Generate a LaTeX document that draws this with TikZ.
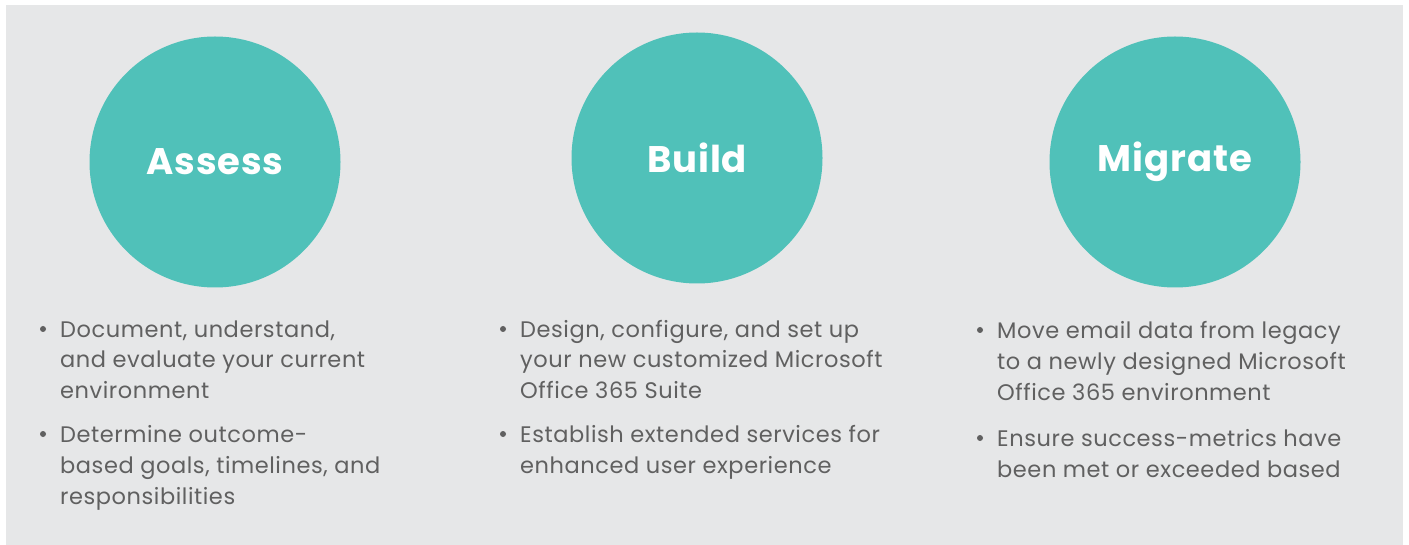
\documentclass[tikz,border=0pt]{standalone}
\usepackage{fontspec}
\setmainfont{Poppins}[LetterSpace=2.5]
\usetikzlibrary{positioning}
\definecolor{phaseteal}{HTML}{50C1B9}
\definecolor{panelgray}{HTML}{E6E7E8}
\definecolor{textgray}{HTML}{606060}
\begin{document}
\begin{tikzpicture}[x=1pt,y=-1pt,
	phase/.style = {circle,fill=phaseteal,minimum size=251pt,inner sep=0pt,text=white,font=\bfseries\fontsize{37}{46}\selectfont},
	bullets/.style = {anchor=base west,align=left,inner sep=0pt,text=textgray,font=\fontsize{22.5}{31}\selectfont},
	dot/.style = {fill=textgray,circle,inner sep=0pt,minimum size=6pt}
	]
	\useasboundingbox (0,0) rectangle (1409,545);
	\fill[white] (0,0) rectangle (1409,545);
	\fill[panelgray] (6,5) rectangle (1403,545);
	%FASI
	\node[phase] (assess) at (215,162) {Assess};
	\node[phase] (build) at (697,158) {Build};
	\node[phase] (migrate) at (1175,162) {Migrate};
	%ASSESS (base = ultima riga)
	\node[bullets] (assess1) at (60,399) {Document, understand,\\and evaluate your current\\environment};
	\node[bullets] (assess2) at (60,504) {Determine outcome-\\based goals, timelines, and\\responsibilities};
	\node[dot] (dota1) at (43,329) {};
	\node[dot] (dota2) at (43,434) {};
	%BUILD
	\node[bullets] (build1) at (520,399) {Design, configure, and set up\\your new customized Microsoft\\Office 365 Suite};
	\node[bullets] (build2) at (520,473) {Establish extended services for\\enhanced user experience};
	\node[dot] (dotb1) at (503,329) {};
	\node[dot] (dotb2) at (503,434) {};
	%MIGRATE
	\node[bullets] (migrate1) at (997,400) {Move email data from legacy\\to a newly designed Microsoft\\Office 365 environment};
	\node[bullets] (migrate2) at (997,477) {Ensure success-metrics have\\been met or exceeded based};
	\node[dot] (dotm1) at (980,330) {};
	\node[dot] (dotm2) at (980,438) {};
\end{tikzpicture}
\end{document}
